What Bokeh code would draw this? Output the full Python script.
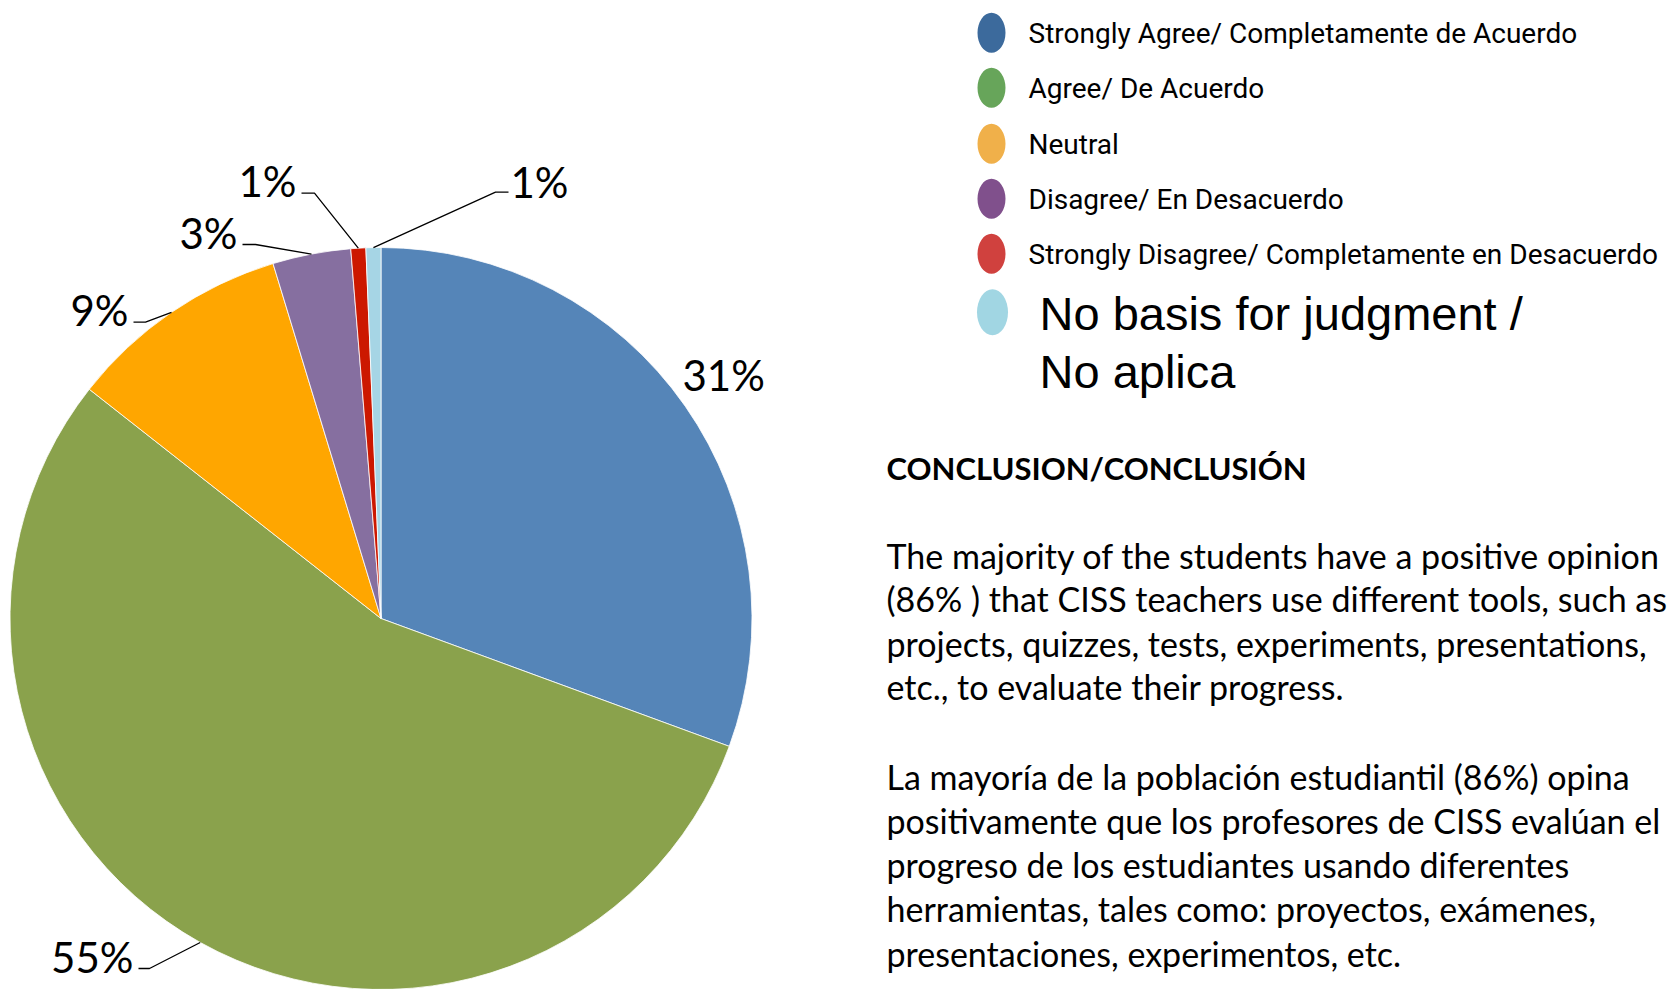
import math
from bokeh.plotting import figure
from bokeh.models import Range1d
from bokeh.core.properties import value
from bokeh.embed import file_html
from bokeh.resources import INLINE

# ---------------- data ----------------
categories = [
    "Strongly Agree/ Completamente de Acuerdo",
    "Agree/ De Acuerdo",
    "Neutral",
    "Disagree/ En Desacuerdo",
    "Strongly Disagree/ Completamente en Desacuerdo",
    "No basis for judgment /\nNo aplica",
]
shares = [30.6, 55.0, 9.7, 3.4, 0.65, 0.65]
pct_labels = ["31%", "55%", "9%", "3%", "1%", "1%"]

pie_colors = ["#5585B8", "#8AA24C", "#FFA600", "#866FA0", "#CC1800", "#A6D5E5"]
legend_colors = ["#3C6A9C", "#67A55A", "#F0B04A", "#80508C", "#D0413E", "#A1D6E3"]

title_text = "CONCLUSION/CONCLUSIÓN"
body_lines = [
    "The majority of the students have a positive opinion",
    "(86% ) that CISS teachers use different  tools, such as",
    "projects, quizzes, tests, experiments, presentations,",
    "etc., to  evaluate their progress.",
    "",
    "La mayoría de la población estudiantil (86%) opina",
    "positivamente que los profesores de CISS evalúan el",
    "progreso de los estudiantes usando diferentes",
    "herramientas, tales como: proyectos, exámenes,",
    "presentaciones, experimentos, etc.",
]

# ---------------- layout (picture pixel coords, y down) ----------------
W, H = 1671, 989
def Y(y):
    return H - y

CX, CY, R = 380.5, 618.0, 371.0

p = figure(width=W, height=H, x_range=Range1d(0, W), y_range=Range1d(0, H),
           min_border=0, toolbar_location=None, output_backend="svg",
           x_axis_type=None, y_axis_type=None)
p.grid.visible = False
p.outline_line_color = None
p.background_fill_color = "white"
p.border_fill_color = "white"

# pie wedges (clockwise from 12 o'clock)
total = sum(shares)
starts, ends, mids = [], [], []
cum = 0.0
for s in shares:
    a0 = math.pi / 2 - 2 * math.pi * cum / total
    cum += s
    a1 = math.pi / 2 - 2 * math.pi * cum / total
    starts.append(a0)
    ends.append(a1)
    mids.append((a0 + a1) / 2)

p.wedge(x=CX, y=Y(CY), radius=R, start_angle=starts, end_angle=ends,
        direction="clock", fill_color=pie_colors, line_color="white", line_width=0.8)

# data labels with leader lines
# (elbow x, elbow y, end x, end y, side) for each slice; None = no leader
leader_layout = [
    None,
    (149, 968, 138, 968, "right"),
    (145, 321.7, 133, 321.7, "right"),
    (255, 244, 242, 244, "right"),
    (314, 192.7, 301, 192.7, "right"),
    (495, 191.7, 508, 191.7, "left"),
]
font_lbl = value("Lato")
LBL_SIZE = "42px"
for i, lab in enumerate(pct_labels):
    lay = leader_layout[i]
    if lay is None:
        p.text(x=[682], y=[Y(374)], text=[lab], text_font=font_lbl, text_font_size=LBL_SIZE,
               text_align="left", text_baseline="middle", text_color="black")
        continue
    ex, ey, tx, ty, side = lay
    px = CX + R * math.cos(mids[i])
    py = Y(CY) + R * math.sin(mids[i])
    p.line(x=[px, ex, tx], y=[py, Y(ey), Y(ty)], line_color="black", line_width=1.3)
    if side == "right":
        p.text(x=[tx - 5], y=[Y(ty - 12)], text=[lab], text_font=font_lbl, text_font_size=LBL_SIZE,
               text_align="right", text_baseline="middle", text_color="black")
    else:
        p.text(x=[tx + 2], y=[Y(ty - 10)], text=[lab], text_font=font_lbl, text_font_size=LBL_SIZE,
               text_align="left", text_baseline="middle", text_color="black")

# legend
leg_y = [32.3, 87.3, 143.3, 198.3, 253.3, 311.7]
for i, cat in enumerate(categories):
    if i < 5:
        p.ellipse(x=991, y=Y(leg_y[i]), width=28, height=40, fill_color=legend_colors[i], line_color=None)
        p.text(x=[1028], y=[Y(leg_y[i] + 1)], text=[cat], text_font=value("Roboto"),
               text_font_size="28px", text_align="left", text_baseline="middle", text_color="black")
    else:
        p.ellipse(x=992, y=Y(leg_y[i]), width=31, height=46, fill_color=legend_colors[i], line_color=None)
        l1, l2 = cat.split("\n")
        p.text(x=[1039, 1039], y=[Y(313), Y(371)], text=[l1, l2], text_font=value("Liberation Sans"),
               text_font_size="47px", text_align="left", text_baseline="middle", text_color="black")

# conclusion text
p.text(x=[886], y=[Y(467)], text=[title_text], text_font=value("Lato"), text_font_style="bold",
       text_font_size="31px", text_align="left", text_baseline="middle", text_color="black")
body_y = [555, 598, 643, 686, None, 776, 820, 864, 908, 953]
bx, by, bt = [], [], []
for t, yy in zip(body_lines, body_y):
    if yy is None:
        continue
    bx.append(886)
    by.append(Y(yy))
    bt.append(t)
p.text(x=bx, y=by, text=bt, text_font=value("Lato"), text_font_size="34px",
       text_align="left", text_baseline="middle", text_color="black")

open("out.html", "w").write(file_html(p, INLINE))
